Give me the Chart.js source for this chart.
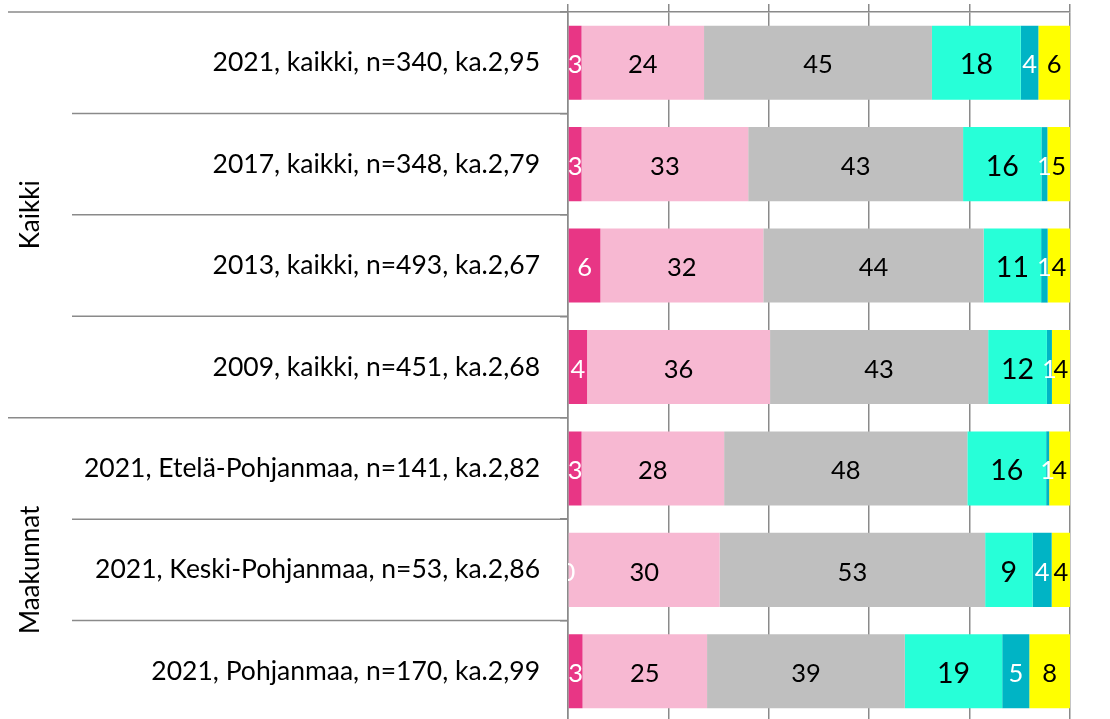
<!DOCTYPE html>
<html>
<head>
<meta charset="utf-8">
<script src="https://cdn.jsdelivr.net/npm/chart.js@4.4.1/dist/chart.umd.min.js"></script>
<style>
html, body { margin: 0; padding: 0; background: #fff; overflow: hidden; }
#wrap { position: relative; width: 1110px; height: 722px; }
</style>
</head>
<body>
<div id="wrap"><canvas id="chart"></canvas></div>
<script>
// Rows (top to bottom)
const categories = [
    '2021, kaikki, n=340, ka.2,95',
    '2017, kaikki, n=348, ka.2,79',
    '2013, kaikki, n=493, ka.2,67',
    '2009, kaikki, n=451, ka.2,68',
    '2021, Etelä-Pohjanmaa, n=141, ka.2,82',
    '2021, Keski-Pohjanmaa, n=53, ka.2,86',
    '2021, Pohjanmaa, n=170, ka.2,99'
];

// Row groups shown as rotated labels on the left
const groups = [
    { label: 'Kaikki', from: 0, to: 3 },
    { label: 'Maakunnat', from: 4, to: 6 }
];

// Shares (%) per answer option
const seriesNames = ['1', '2', '3', '4', '5', 'EOS'];
const s1 = [2.7, 2.7, 6.45, 3.8, 2.7, 0, 2.9];
const s2 = [24.4, 33.2, 32.45, 36.45, 28.4, 30.2, 24.8];
const s3 = [45.4, 42.8, 43.9, 43.45, 48.45, 52.9, 39.4];
const s4 = [17.7, 15.6, 11.45, 11.7, 15.7, 9.45, 19.4];
const s5 = [3.5, 1.2, 1.3, 1.0, 0.6, 3.8, 5.4];
const s6 = [6.3, 4.5, 4.45, 3.6, 4.15, 3.65, 8.1];

const xTicks = [0, 20, 40, 60, 80, 100];

const colors = ['#E83685', '#F7B8D2', '#BFBFBF', '#27FFD8', '#00B4C5', '#FFFF00'];
const labelColors = ['#fff', '#000', '#000', '#000', '#fff', '#000'];
const labelSizes = [25.5, 25.5, 25.5, 28.5, 25.5, 25.5];
const gridColor = '#8a8a8a';
const fontFamily = 'Lato, "Open Sans", sans-serif';

// value labels in the middle of each segment
const valueLabels = {
    id: 'valueLabels',
    afterDatasetsDraw(chart) {
        const ctx = chart.ctx;
        const area = chart.chartArea;
        ctx.save();
        ctx.beginPath();
        ctx.rect(area.left, area.top, area.right - area.left, area.bottom - area.top);
        ctx.clip();
        ctx.textAlign = 'center';
        ctx.textBaseline = 'middle';
        chart.data.datasets.forEach((ds, i) => {
            const meta = chart.getDatasetMeta(i);
            ctx.fillStyle = labelColors[i];
            ctx.font = labelSizes[i] + 'px ' + fontFamily;
            meta.data.forEach((bar, j) => {
                ctx.fillText(Math.round(ds.data[j]), (bar.x + bar.base) / 2, bar.y + 2.5);
            });
        });
        ctx.restore();
    }
};

// row separators and group titles on the left
const groupLines = {
    id: 'groupLines',
    afterDraw(chart) {
        const ctx = chart.ctx;
        const y = chart.scales.y;
        const area = chart.chartArea;
        const half = (y.getPixelForValue(1) - y.getPixelForValue(0)) / 2;
        ctx.save();
        ctx.strokeStyle = gridColor;
        ctx.lineWidth = 1.5;
        for (let i = 0; i <= categories.length; i++) {
            const py = i < categories.length
                ? y.getPixelForValue(i) - half
                : y.getPixelForValue(categories.length - 1) + half;
            const edge = i === categories.length || groups.some(g => g.from === i);
            ctx.beginPath();
            ctx.moveTo(edge ? 8 : 72, py);
            ctx.lineTo(area.left, py);
            ctx.stroke();
        }
        ctx.fillStyle = '#000';
        ctx.font = '26px ' + fontFamily;
        ctx.textAlign = 'center';
        ctx.textBaseline = 'middle';
        groups.forEach(g => {
            const top = y.getPixelForValue(g.from) - half;
            const bottom = y.getPixelForValue(g.to) + half;
            ctx.save();
            ctx.translate(31, (top + bottom) / 2);
            ctx.rotate(-Math.PI / 2);
            ctx.fillText(g.label, 0, 0);
            ctx.restore();
        });
        ctx.restore();
    }
};

const seriesData = [s1, s2, s3, s4, s5, s6];

new Chart(document.getElementById('chart'), {
    type: 'bar',
    data: {
        labels: categories,
        datasets: seriesData.map((d, i) => ({
            label: seriesNames[i],
            data: d,
            backgroundColor: colors[i],
            borderWidth: 0,
            barPercentage: 0.73,
            categoryPercentage: 1
        }))
    },
    options: {
        indexAxis: 'y',
        responsive: true,
        maintainAspectRatio: false,
        animation: false,
        layout: { padding: { top: 4, right: 40, left: 0, bottom: 0 } },
        plugins: {
            legend: { display: false },
            tooltip: { enabled: false }
        },
        scales: {
            x: {
                position: 'top',
                stacked: true,
                min: 0,
                max: 100,
                afterBuildTicks: scale => { scale.ticks = xTicks.map(v => ({ value: v })); },
                ticks: { display: false },
                grid: { color: gridColor, lineWidth: 1.5, tickLength: 8 },
                border: { color: gridColor, width: 1.5 }
            },
            y: {
                stacked: true,
                afterFit: scale => {
                    scale.width = 568;
                    scale.paddingTop = 0;
                    scale.paddingBottom = 0;
                },
                ticks: {
                    color: '#000',
                    padding: 20,
                    font: { family: fontFamily, size: 26.5 }
                },
                grid: { drawOnChartArea: false, color: gridColor, lineWidth: 1.5, tickLength: 8 },
                border: { color: gridColor, width: 1.5 }
            }
        }
    },
    plugins: [valueLabels, groupLines]
});
</script>
</body>
</html>
